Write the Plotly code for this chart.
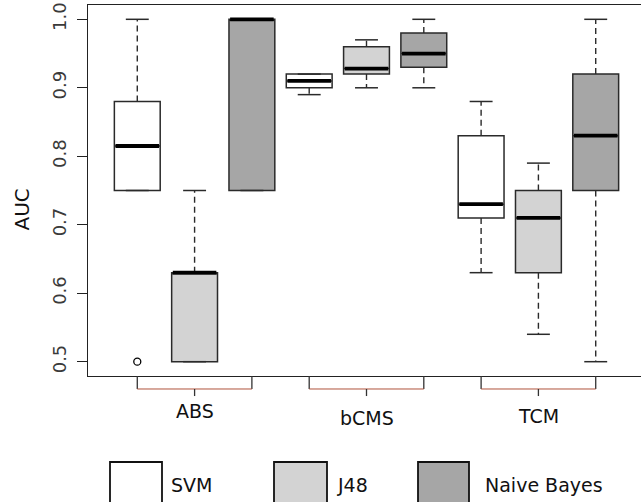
import plotly.graph_objects as go

# ---- data ----
groups = ["ABS", "bCMS", "TCM"]
methods = ["SVM", "J48", "Naive Bayes"]
fills = ["#FFFFFF", "#D3D3D3", "#A6A6A6"]

# one entry per box, order: ABS(SVM,J48,NB), bCMS(...), TCM(...)
lower_whisker = [0.75, 0.50, 0.75, 0.89, 0.90, 0.90, 0.63, 0.54, 0.50]
q1 = [0.75, 0.50, 0.75, 0.90, 0.92, 0.93, 0.71, 0.63, 0.75]
median = [0.815, 0.63, 1.00, 0.91, 0.928, 0.95, 0.73, 0.71, 0.83]
q3 = [0.88, 0.63, 1.00, 0.92, 0.96, 0.98, 0.83, 0.75, 0.92]
upper_whisker = [1.00, 0.75, 1.00, 0.92, 0.97, 1.00, 0.88, 0.79, 1.00]
outlier_pos = [1]
outlier_val = [0.50]

y_ticks = [0.5, 0.6, 0.7, 0.8, 0.9, 1.0]

positions = list(range(1, 10))
BW = 0.8      # box width (data units)
CAP = 0.4     # staple width

fig = go.Figure()

# box bodies
for i, p in enumerate(positions):
    fig.add_trace(go.Box(
        x=[p], q1=[q1[i]], median=[median[i]], q3=[q3[i]],
        lowerfence=[q1[i]], upperfence=[q3[i]],
        width=BW, whiskerwidth=0, boxpoints=False,
        fillcolor=fills[i % 3],
        line=dict(color="#2a2a2a", width=1.5),
        showlegend=False, hoverinfo="skip"))

# dashed whiskers
wx, wy = [], []
for i, p in enumerate(positions):
    if upper_whisker[i] > q3[i]:
        wx += [p, p, None]; wy += [q3[i], upper_whisker[i], None]
    if lower_whisker[i] < q1[i]:
        wx += [p, p, None]; wy += [q1[i], lower_whisker[i], None]
fig.add_trace(go.Scatter(x=wx, y=wy, mode="lines",
                         line=dict(color="#2a2a2a", width=1.4, dash="6px,4px"),
                         showlegend=False, hoverinfo="skip"))

# staples
sx, sy = [], []
for i, p in enumerate(positions):
    for v in (lower_whisker[i], upper_whisker[i]):
        sx += [p - CAP / 2, p + CAP / 2, None]; sy += [v, v, None]
fig.add_trace(go.Scatter(x=sx, y=sy, mode="lines",
                         line=dict(color="#2a2a2a", width=1.5),
                         showlegend=False, hoverinfo="skip"))

# thick medians
mx, my = [], []
for i, p in enumerate(positions):
    mx += [p - BW / 2 + 0.02, p + BW / 2 - 0.02, None]; my += [median[i], median[i], None]
fig.add_trace(go.Scatter(x=mx, y=my, mode="lines",
                         line=dict(color="black", width=3.8),
                         showlegend=False, hoverinfo="skip"))

# outliers
fig.add_trace(go.Scatter(x=outlier_pos, y=outlier_val, mode="markers",
                         marker=dict(symbol="circle-open", size=7,
                                     color="black", line=dict(width=1.3)),
                         showlegend=False, hoverinfo="skip"))

# group brackets below the axis
shapes = []
annotations = []
label_y = [-0.095, -0.114, -0.108]
for g, name in enumerate(groups):
    a = positions[3 * g]
    b = positions[3 * g + 2]
    c = positions[3 * g + 1]
    shapes.append(dict(type="line", xref="x", yref="paper", x0=a, x1=a, y0=0, y1=-0.035,
                       line=dict(color="#333333", width=1.3)))
    shapes.append(dict(type="line", xref="x", yref="paper", x0=b, x1=b, y0=0, y1=-0.035,
                       line=dict(color="#333333", width=1.3)))
    shapes.append(dict(type="line", xref="x", yref="paper", x0=a, x1=b, y0=-0.035, y1=-0.035,
                       line=dict(color="#B0523C", width=1)))
    shapes.append(dict(type="line", xref="x", yref="paper", x0=c, x1=c, y0=-0.035, y1=-0.054,
                       line=dict(color="#333333", width=1.3)))
    annotations.append(dict(x=c, y=label_y[g], xref="x", yref="paper", text=name,
                            showarrow=False, xanchor="center", yanchor="middle",
                            font=dict(family="DejaVu Sans", size=19, color="#111111")))

# legend (drawn by hand, R style)
FW, FH = 650, 502
PL, PW, PT, PH = 88, 557, 5, 371
def px(xp): return (xp - PL) / PW
def py(yp): return (PT + PH - yp) / PH
leg_boxes = [(110, 162), (274, 327), (418, 469)]
leg_text_x = [169, 335, 483]
for k, m in enumerate(methods):
    x0, x1 = leg_boxes[k]
    shapes.append(dict(type="rect", xref="paper", yref="paper",
                       x0=px(x0), x1=px(x1), y0=py(462), y1=py(515),
                       fillcolor=fills[k], line=dict(color="#111111", width=1.8)))
    annotations.append(dict(x=px(leg_text_x[k]), y=py(485), xref="paper", yref="paper",
                            text=m, showarrow=False, xanchor="left", yanchor="middle",
                            font=dict(family="DejaVu Sans", size=19, color="#111111")))

# y axis title
annotations.append(dict(x=px(21.5), y=py(210), xref="paper", yref="paper", text="AUC",
                        textangle=-90, showarrow=False, xanchor="center", yanchor="middle",
                        font=dict(family="DejaVu Sans", size=20, color="#111111")))

fig.update_layout(
    width=FW, height=FH,
    margin=dict(l=PL, r=FW - PL - PW, t=PT, b=FH - PT - PH),
    paper_bgcolor="white", plot_bgcolor="white",
    shapes=shapes, annotations=annotations,
    showlegend=False, hovermode=False, dragmode=False,
    xaxis=dict(range=[0.14, 9.86], showticklabels=False, ticks="", showgrid=False,
               automargin=False, fixedrange=True,
               zeroline=False, showline=True, mirror=True, linecolor="#222222", linewidth=1.3),
    yaxis=dict(range=[0.4791, 1.0209], tickvals=y_ticks,
               ticktext=[f"{v:.1f}" for v in y_ticks],
               ticks="outside", ticklen=10, tickwidth=1.3, tickcolor="#222222",
               tickangle=-90, ticklabelstandoff=4, automargin=False, fixedrange=True,
               tickfont=dict(family="DejaVu Sans", size=18, color="#3a3a3a"),
               showgrid=False, zeroline=False, showline=True,
               linecolor="#222222", linewidth=1.3),
)

fig.write_html("out.html", config={"displayModeBar": False},
               post_script="document.body.style.margin='0';document.body.style.overflow='hidden';")
